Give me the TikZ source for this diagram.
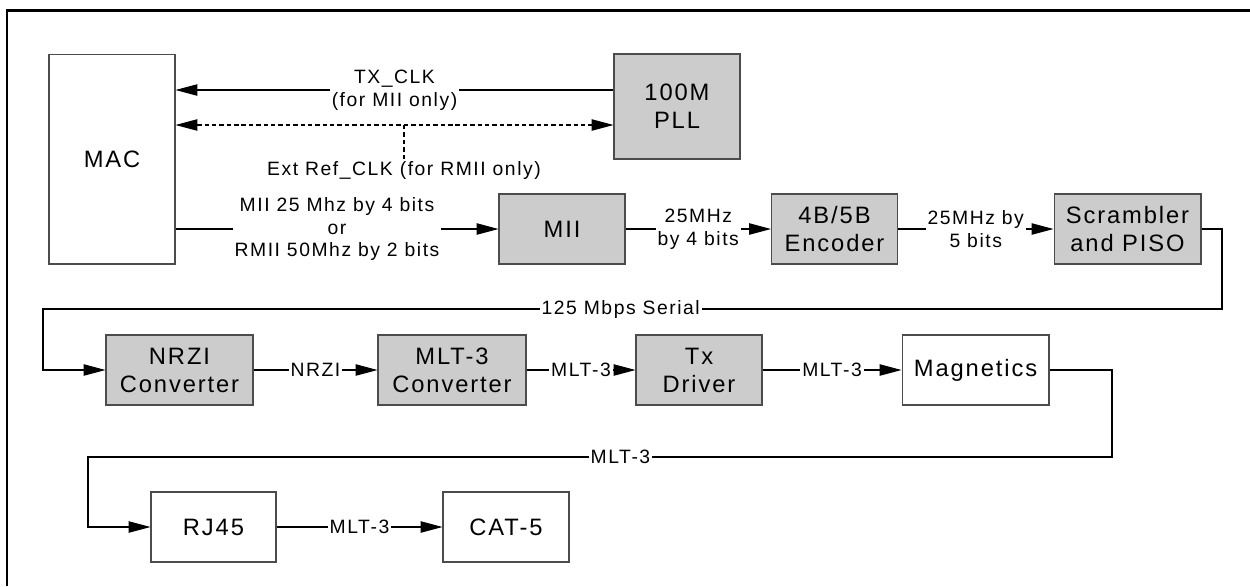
\documentclass[tikz,border=0pt]{standalone}
\usepackage{fontspec}
\setmainfont{Liberation Sans}[LetterSpace=8]
\usepackage{tikz}
\usetikzlibrary{arrows.meta}

\begin{document}
\begin{tikzpicture}[x=0.02cm,y=-0.02cm]
    \tikzset{blk/.style = {draw=black!70, line width=0.6pt, fill=white, align=center, minimum width=2.52cm, minimum height=1.4cm, font=\fontsize{13.5}{16}\selectfont}}
    \tikzset{gblk/.style = {blk, fill=black!20}}
    \tikzset{lbl/.style = {fill=white, inner sep=1pt, align=center, font=\fontsize{11}{13}\selectfont}}
    \tikzset{arr/.style = {line width=0.6pt, -{Triangle[length=12.5pt,width=6.5pt]}}}

    \useasboundingbox (0,0) rectangle (1250,586);
    \draw[line width=1.7pt] (7,586) -- (7,10) -- (1250,10);

    % blocks
    \node[blk, minimum height=4.2cm] (mac) at (112,159) {MAC};
    \node[gblk, minimum height=2.1cm] (pll) at (677,106.5) {100M\\PLL};
    \node[gblk] (mii) at (562,229) {MII};
    \node[gblk] (enc) at (834.5,229) {4B/5B\\Encoder};
    \node[gblk, minimum width=2.94cm] (scr) at (1127.5,229) {Scrambler\\and PISO};
    \node[gblk, minimum width=2.94cm] (nrzi) at (179.5,370) {NRZI\\Converter};
    \node[gblk, minimum width=2.96cm] (mlt) at (452,370) {MLT-3\\Converter};
    \node[gblk] (tx) at (699,370) {Tx\\Driver};
    \node[blk, minimum width=2.94cm] (mag) at (975.5,370) {Magnetics};
    \node[blk, minimum width=2.5cm] (rj) at (213.5,527) {RJ45};
    \node[blk] (cat) at (506,527) {CAT-5};

    % clocks
    \coordinate (clka) at ([yshift=0.33cm]pll.west);
    \coordinate (clkb) at ([yshift=-0.37cm]pll.west);
    \draw[arr] (clka) -- node[lbl]{TX\_CLK\\(for MII only)} (clka -| mac.east);
    \draw[arr, {Triangle[length=12.5pt,width=6.5pt]}-{Triangle[length=12.5pt,width=6.5pt]}, dash pattern=on 2.5pt off 1.7pt] (clkb -| mac.east) -- (clkb);
    \node[lbl] (ext) at (404,170) {Ext Ref\_CLK (for RMII only)};
    \draw[line width=1.2pt, dash pattern=on 2.5pt off 1.7pt] (ext.north) -- (ext.north |- clkb);

    % data path
    \draw[arr] (mac.east |- mii.west) -- node[lbl]{MII 25 Mhz by 4 bits\\or\\RMII 50Mhz by 2 bits} (mii.west);
    \draw[arr] (mii) -- node[lbl]{25MHz\\by 4 bits} (enc);
    \draw[arr] (enc) -- node[lbl]{25MHz by\\5 bits} (scr);
    \draw[arr] (scr.east) -- (1222,229) -- (1222,309) -- node[lbl, pos=0.51]{125 Mbps Serial} (43,309) |- (nrzi.west);
    \draw[arr] (nrzi) -- node[lbl]{NRZI} (mlt);
    \draw[arr] (mlt) -- node[lbl]{MLT-3} (tx);
    \draw[arr] (tx) -- node[lbl]{MLT-3} (mag);
    \draw[arr] (mag.east) -- (1112,370) -- (1112,457) -- node[lbl, pos=0.48]{MLT-3} (88,457) |- (rj.west);
    \draw[arr] (rj) -- node[lbl]{MLT-3} (cat);
\end{tikzpicture}
\end{document}
